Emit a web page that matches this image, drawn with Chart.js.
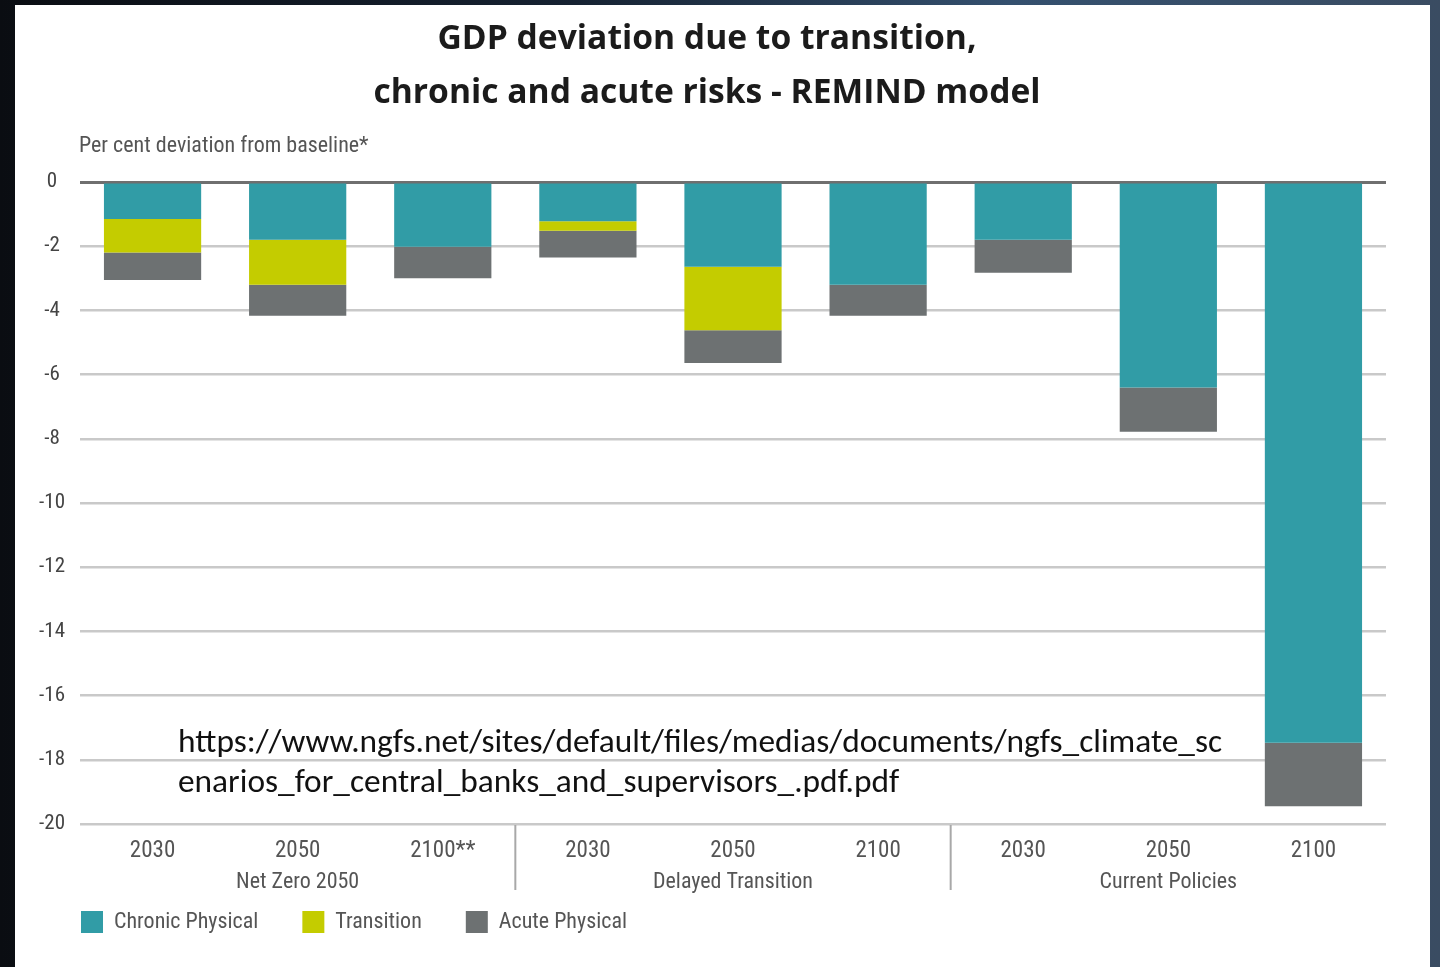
<!DOCTYPE html>
<html>
<head>
<meta charset="utf-8">
<script src="https://cdn.jsdelivr.net/npm/chart.js@4.4.1/dist/chart.umd.min.js"></script>
<style>
  html, body { margin: 0; padding: 0; }
  body { width: 1440px; height: 967px; overflow: hidden; position: relative;
         background: linear-gradient(90deg, #0a0d12 0%, #162232 40%, #34506e 70%, #3a4c62 100%); }
  #panel { position: absolute; left: 15px; top: 5px; width: 1415px; height: 962px; background: #ffffff; }
  #c { position: absolute; left: 0; top: 0; }
</style>
</head>
<body>
<div id="panel"></div>
<canvas id="c" width="1440" height="967"></canvas>
<script>
// ---- data ----
const yearLabels = ['2030', '2050', '2100**', '2030', '2050', '2100', '2030', '2050', '2100'];
const scenarioNames = ['Net Zero 2050', 'Delayed Transition', 'Current Policies'];
const chronicPhysical = [-1.15, -1.8, -2.02, -1.22, -2.64, -3.2, -1.8, -6.4, -17.47];
const transitionRisk  = [-1.05, -1.4, 0, -0.3, -1.98, 0, 0, 0, 0];
const acutePhysical   = [-0.85, -0.97, -0.98, -0.83, -1.02, -0.97, -1.03, -1.38, -1.98];
const seriesNames = ['Chronic Physical', 'Transition', 'Acute Physical'];
const yTicks = [0, -2, -4, -6, -8, -10, -12, -14, -16, -18, -20];
const titleLines = ['GDP deviation due to transition,', 'chronic and acute risks - REMIND model'];
const yAxisTitle = 'Per cent deviation from baseline*';
const sourceLines = ['https://www.ngfs.net/sites/default/files/medias/documents/ngfs_climate_sc',
                     'enarios_for_central_banks_and_supervisors_.pdf.pdf'];

const NARROW = "'Liberation Sans Narrow','Roboto Condensed','DejaVu Sans Condensed','Arial Narrow',sans-serif";
const COLORS = ['#319ca6', '#c4cc00', '#6d7172'];

const overlay = {
  id: 'overlay',
  afterDraw(chart) {
    const ctx = chart.ctx;
    const x = chart.scales.x;
    const area = chart.chartArea;
    ctx.save();
    // title (size fitted to the reference line width)
    ctx.fillStyle = '#1b1b1b';
    ctx.textAlign = 'center';
    ctx.textBaseline = 'middle';
    const TF = "'Open Sans', Lato, sans-serif";
    ctx.font = "bold 30px " + TF;
    let tw = ctx.measureText(titleLines[0]).width;
    let tfs = Math.min(34, 30 * 539 / tw);
    ctx.font = "bold " + tfs.toFixed(2) + "px " + TF;
    ctx.fillText(titleLines[0], 707, 39);
    ctx.fillText(titleLines[1], 707, 93);
    // y axis title
    ctx.fillStyle = '#555';
    ctx.textAlign = 'left';
    ctx.font = '22px ' + NARROW;
    ctx.fillText(yAxisTitle, 79, 146);
    // scenario group labels
    ctx.textAlign = 'center';
    ctx.fillStyle = '#555';
    scenarioNames.forEach((name, g) => {
      const cx = x.getPixelForValue(g * 3 + 1);
      ctx.fillText(name, cx, 882);
    });
    // separators
    ctx.strokeStyle = '#a8a8a8';
    ctx.lineWidth = 2;
    [1, 2].forEach(g => {
      const sx = (x.getPixelForValue(g * 3 - 1) + x.getPixelForValue(g * 3)) / 2;
      ctx.beginPath();
      ctx.moveTo(sx, area.bottom + 1);
      ctx.lineTo(sx, 890);
      ctx.stroke();
    });
    // source url
    ctx.fillStyle = '#111';
    ctx.textAlign = 'left';
    ctx.textBaseline = 'alphabetic';
    const UF = "Carlito, 'Open Sans', Lato, sans-serif";
    let fs = 29;
    ctx.font = fs + "px " + UF;
    const w = ctx.measureText(sourceLines[0]).width;
    fs = fs * 1044 / w;
    ctx.font = fs.toFixed(2) + "px " + UF;
    ctx.fillText(sourceLines[0], 178, 752);
    ctx.fillText(sourceLines[1], 178, 792);
    ctx.restore();
  }
};

new Chart(document.getElementById('c'), {
  type: 'bar',
  data: {
    labels: yearLabels,
    datasets: [
      { label: seriesNames[0], data: chronicPhysical, backgroundColor: COLORS[0] },
      { label: seriesNames[1], data: transitionRisk, backgroundColor: COLORS[1] },
      { label: seriesNames[2], data: acutePhysical, backgroundColor: COLORS[2] }
    ]
  },
  options: {
    responsive: false,
    devicePixelRatio: 1,
    animation: false,
    layout: { padding: { top: 182, left: 37, right: 54, bottom: 24 } },
    datasets: { bar: { categoryPercentage: 1, barPercentage: 0.67, borderWidth: 0 } },
    plugins: {
      title: { display: false },
      tooltip: { enabled: false },
      legend: {
        position: 'bottom',
        align: 'start',
        labels: {
          boxWidth: 22, boxHeight: 22, padding: 44,
          color: '#555',
          font: { family: NARROW, size: 22 }
        }
      }
    },
    scales: {
      x: {
        stacked: true,
        grid: { display: false },
        border: { display: false },
        ticks: { color: '#555', padding: 5, font: { family: NARROW, size: 23 }, maxRotation: 0, autoSkip: false },
        afterFit(s) { s.height = 43; }
      },
      y: {
        stacked: true,
        min: -20, max: 0,
        afterBuildTicks(s) { s.ticks = yTicks.map(v => ({ value: v })); },
        border: { display: false },
        grid: {
          color: ctx => ctx.tick && ctx.tick.value === 0 ? '#6f6f6f' : '#c9c9c9',
          lineWidth: ctx => ctx.tick && ctx.tick.value === 0 ? 3 : 2.5,
          drawTicks: true, tickLength: 15, tickColor: 'rgba(0,0,0,0)'
        },
        ticks: { color: '#444', crossAlign: 'center', padding: 0, font: { family: NARROW, size: 21 } },
        afterFit(s) { s.width = 43; }
      }
    }
  },
  plugins: [overlay]
});
</script>
</body>
</html>
